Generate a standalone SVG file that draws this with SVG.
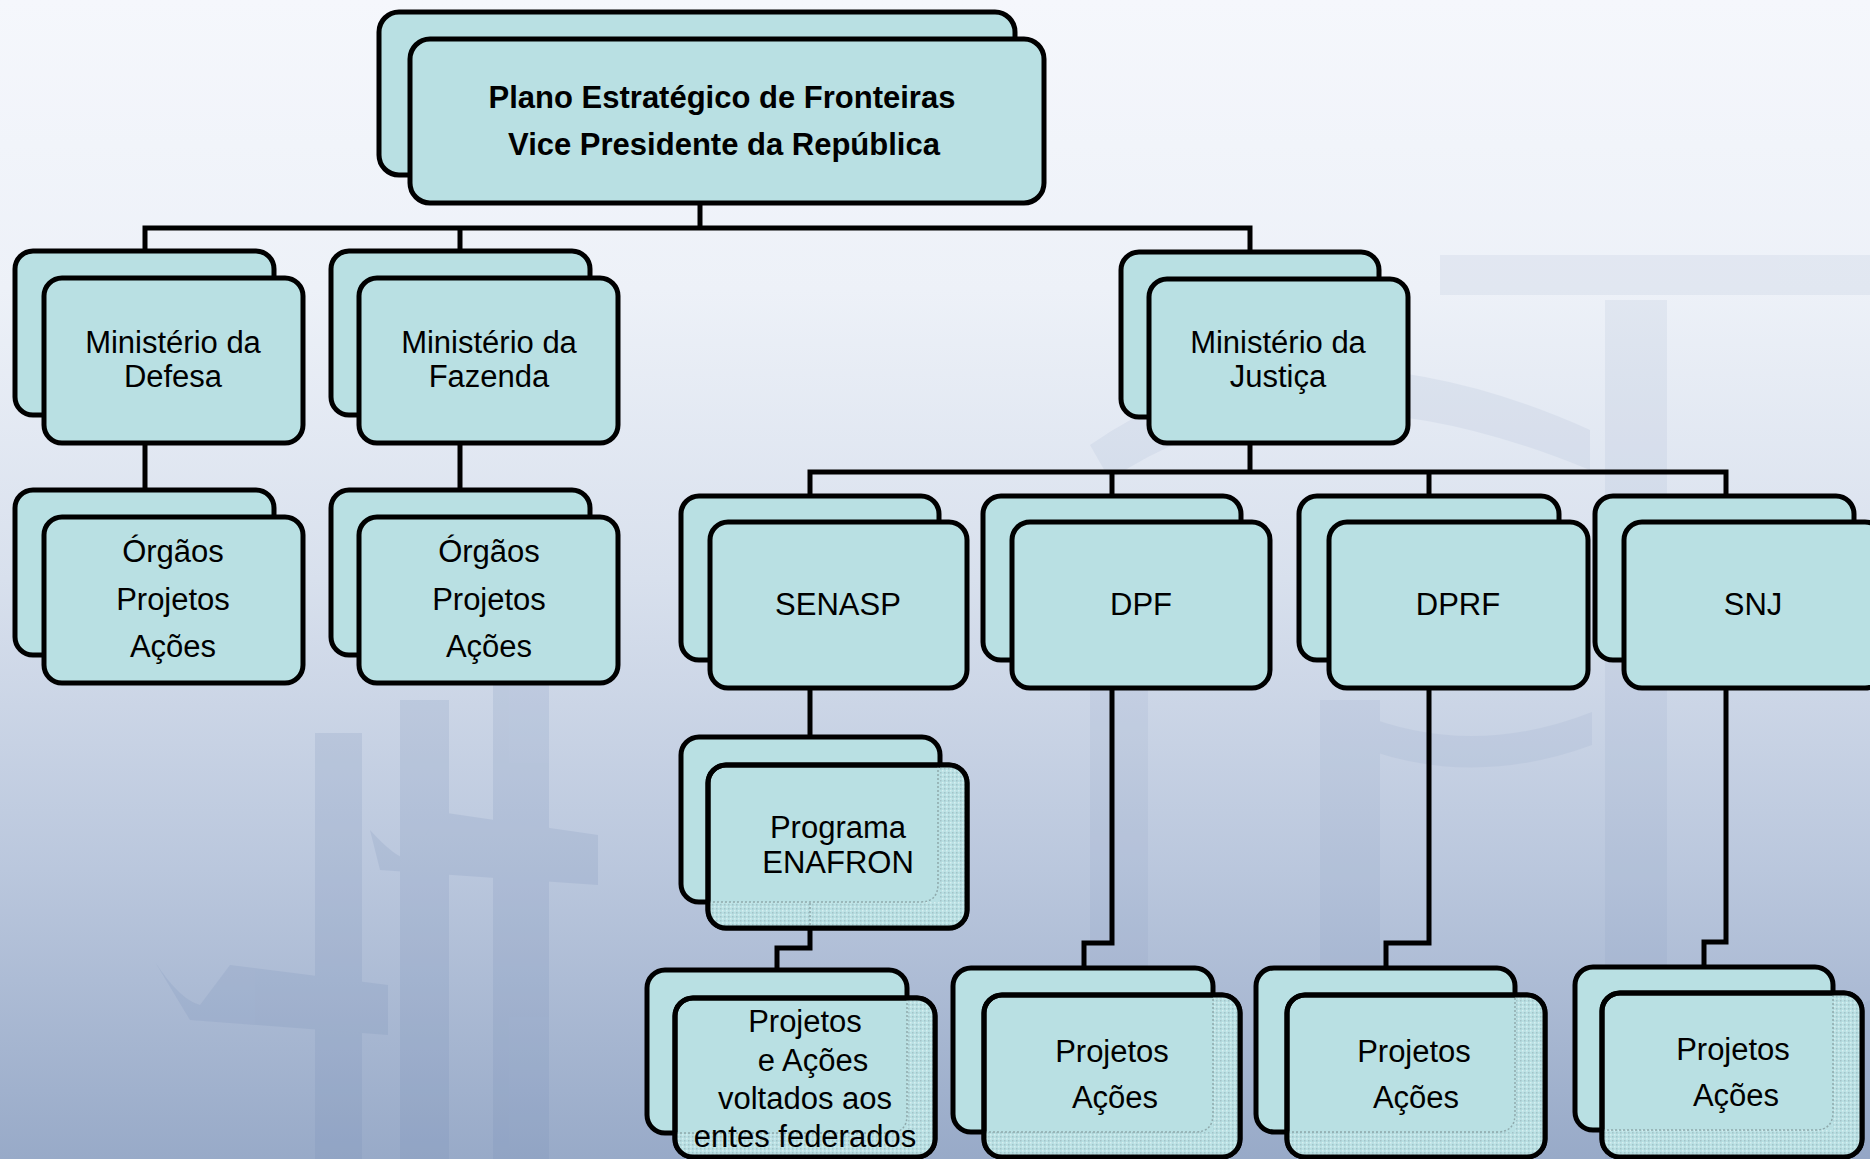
<svg xmlns="http://www.w3.org/2000/svg" width="1870" height="1159" viewBox="0 0 1870 1159">
<style>
  .back, .front { fill: #b9e0e3; stroke: #000; stroke-width: 5; }
  .edge { fill: none; stroke: #000; stroke-width: 5; }
  .lbl { font-family: "Liberation Sans", Arial, sans-serif; font-size: 31px; fill: #000; text-anchor: middle; }
  .title { font-weight: bold; }
  .conn { fill: none; stroke: #000; stroke-width: 5; stroke-linejoin: miter; }
  .stip { fill: url(#dots); }
  .dotline { fill: none; stroke: #8fa9ac; stroke-width: 1.5; stroke-dasharray: 2 2; }
  .bgshape { fill: #6f87b2; }
</style>
<defs>
  <linearGradient id="bg" x1="0" y1="0" x2="0" y2="1">
    <stop offset="0" stop-color="#f5f7fc"/>
    <stop offset="0.25" stop-color="#edf1f8"/>
    <stop offset="0.5" stop-color="#d8e0ed"/>
    <stop offset="0.75" stop-color="#bac7dd"/>
    <stop offset="1" stop-color="#98aac8"/>
  </linearGradient>
  <pattern id="dots" width="4" height="4" patternUnits="userSpaceOnUse">
    <rect width="4" height="4" fill="#b9e0e3"/>
    <rect x="0" y="0" width="1.5" height="1.5" fill="#a3c3c8"/>
    <rect x="2" y="2" width="1.5" height="1.5" fill="#d6eef0"/>
  </pattern>
  <clipPath id="cEnaf"><rect x="708" y="765" width="259" height="163" rx="18"/></clipPath>
  <clipPath id="cEntes"><rect x="675" y="998" width="260" height="159" rx="18"/></clipPath>
  <clipPath id="cPA1"><rect x="984" y="995" width="256" height="162" rx="18"/></clipPath>
  <clipPath id="cPA2"><rect x="1287" y="995" width="258" height="162" rx="18"/></clipPath>
  <clipPath id="cPA3"><rect x="1602" y="993" width="260" height="164" rx="18"/></clipPath>
</defs>

<g id="background">
  <rect x="0" y="0" width="1870" height="1159" fill="url(#bg)"/>
  <g class="bgshape" opacity="0.16">
    <rect x="315" y="733" width="47" height="430"/>
    <rect x="400" y="700" width="49" height="460"/>
    <rect x="493" y="683" width="56" height="480"/>
    <path d="M155,962 Q180,1000 200,1005 L230,965 L388,985 L388,1035 L190,1020 Z"/>
    <path d="M370,830 Q395,858 410,860 L440,812 L598,835 L598,885 L380,870 Z"/>
  </g>
  <g class="bgshape" opacity="0.09">
    <rect x="1090" y="690" width="58" height="470"/>
    <rect x="1320" y="700" width="60" height="460"/>
    <rect x="1605" y="300" width="62" height="860"/>
    <rect x="1440" y="255" width="430" height="40"/>
    <path d="M1090,445 Q1300,300 1590,430 L1590,470 Q1300,350 1110,480 Z"/>
    <path d="M1355,712 Q1470,760 1592,712 L1592,745 Q1470,790 1355,745 Z"/>
    <path d="M1700,1159 L1760,1050 L1870,1000 L1870,1159 Z"/>
  </g>
</g>

<g id="connectors">
  <path class="conn" d="M700,203 V228"/>
  <path class="conn" d="M145,251 V228 H1250 V252"/>
  <path class="conn" d="M460,228 V251"/>
  <path class="conn" d="M145,443 V490"/>
  <path class="conn" d="M460,443 V490"/>
  <path class="conn" d="M1250,443 V472"/>
  <path class="conn" d="M810,496 V472 H1726 V496"/>
  <path class="conn" d="M1112,472 V496"/>
  <path class="conn" d="M1429,472 V496"/>
  <path class="conn" d="M810,688 V737"/>
  <path class="conn" d="M810,928 V948 H777 V970"/>
  <path class="conn" d="M1112,688 V943 H1084 V968"/>
  <path class="conn" d="M1429,688 V943 H1386 V968"/>
  <path class="conn" d="M1726,688 V942 H1704 V967"/>
</g>

<g id="node-plano">
  <rect class="back" x="379" y="12" width="636" height="163" rx="20"/>
  <rect class="front" x="410" y="39" width="634" height="164" rx="20"/>
  <text class="lbl title" x="722" y="108">Plano Estratégico de Fronteiras</text>
  <text class="lbl title" x="724" y="155">Vice Presidente da República</text>
</g>

<g id="node-defesa">
  <rect class="back" x="15" y="251" width="259" height="164" rx="18"/>
  <rect class="front" x="44" y="278" width="259" height="165" rx="18"/>
  <text class="lbl" x="173" y="353">Ministério da</text>
  <text class="lbl" x="173" y="387">Defesa</text>
</g>

<g id="node-fazenda">
  <rect class="back" x="331" y="251" width="259" height="164" rx="18"/>
  <rect class="front" x="359" y="278" width="259" height="165" rx="18"/>
  <text class="lbl" x="489" y="353">Ministério da</text>
  <text class="lbl" x="489" y="387">Fazenda</text>
</g>

<g id="node-orgaos-defesa">
  <rect class="back" x="15" y="490" width="259" height="165" rx="18"/>
  <rect class="front" x="44" y="517" width="259" height="166" rx="18"/>
  <text class="lbl" x="173" y="562">Órgãos</text>
  <text class="lbl" x="173" y="610">Projetos</text>
  <text class="lbl" x="173" y="657">Ações</text>
</g>

<g id="node-orgaos-fazenda">
  <rect class="back" x="331" y="490" width="259" height="165" rx="18"/>
  <rect class="front" x="359" y="517" width="259" height="166" rx="18"/>
  <text class="lbl" x="489" y="562">Órgãos</text>
  <text class="lbl" x="489" y="610">Projetos</text>
  <text class="lbl" x="489" y="657">Ações</text>
</g>

<g id="node-justica">
  <rect class="back" x="1121" y="252" width="258" height="165" rx="18"/>
  <rect class="front" x="1149" y="279" width="259" height="164" rx="18"/>
  <text class="lbl" x="1278" y="353">Ministério da</text>
  <text class="lbl" x="1278" y="387">Justiça</text>
</g>

<g id="node-senasp">
  <rect class="back" x="681" y="496" width="258" height="164" rx="18"/>
  <rect class="front" x="710" y="522" width="257" height="166" rx="18"/>
  <text class="lbl" x="838" y="615">SENASP</text>
</g>

<g id="node-dpf">
  <rect class="back" x="983" y="496" width="258" height="164" rx="18"/>
  <rect class="front" x="1012" y="522" width="258" height="166" rx="18"/>
  <text class="lbl" x="1141" y="615">DPF</text>
</g>

<g id="node-dprf">
  <rect class="back" x="1299" y="496" width="260" height="164" rx="18"/>
  <rect class="front" x="1329" y="522" width="259" height="166" rx="18"/>
  <text class="lbl" x="1458" y="615">DPRF</text>
</g>

<g id="node-snj">
  <rect class="back" x="1595" y="496" width="259" height="164" rx="18"/>
  <rect class="front" x="1624" y="522" width="259" height="166" rx="18"/>
  <text class="lbl" x="1753" y="615">SNJ</text>
</g>

<g id="node-enafron">
  <rect class="back" x="681" y="737" width="259" height="165" rx="18"/>
  <rect class="front" x="708" y="765" width="259" height="163" rx="18"/>
  <g clip-path="url(#cEnaf)">
    <rect class="stip" x="940" y="765" width="30" height="170"/>
    <rect class="stip" x="700" y="902" width="270" height="30"/>
  </g>
  <path class="dotline" d="M709,902 H920 Q938,902 938,884 V767"/>
  <path class="dotline" d="M810,903 V928"/>
  <rect class="edge" x="708" y="765" width="259" height="163" rx="18"/>
  <text class="lbl" x="838" y="838">Programa</text>
  <text class="lbl" x="838" y="873">ENAFRON</text>
</g>

<g id="node-entes">
  <rect class="back" x="647" y="970" width="260" height="163" rx="18"/>
  <rect class="front" x="675" y="998" width="260" height="159" rx="18"/>
  <g clip-path="url(#cEntes)">
    <rect class="stip" x="907" y="998" width="30" height="165"/>
    <rect class="stip" x="670" y="1133" width="270" height="30"/>
  </g>
  <path class="dotline" d="M676,1133 H889 Q907,1133 907,1115 V1000"/>
  <rect class="edge" x="675" y="998" width="260" height="159" rx="18"/>
  <text class="lbl" x="805" y="1032">Projetos</text>
  <text class="lbl" x="813" y="1071">e Ações</text>
  <text class="lbl" x="805" y="1109">voltados aos</text>
  <text class="lbl" x="805" y="1147">entes federados</text>
</g>

<g id="node-dpf-projetos">
  <rect class="back" x="953" y="968" width="260" height="164" rx="18"/>
  <rect class="front" x="984" y="995" width="256" height="162" rx="18"/>
  <g clip-path="url(#cPA1)">
    <rect class="stip" x="1213" y="995" width="30" height="165"/>
    <rect class="stip" x="980" y="1132" width="265" height="30"/>
  </g>
  <path class="dotline" d="M985,1132 H1195 Q1213,1132 1213,1114 V997"/>
  <rect class="edge" x="984" y="995" width="256" height="162" rx="18"/>
  <text class="lbl" x="1112" y="1062">Projetos</text>
  <text class="lbl" x="1115" y="1108">Ações</text>
</g>

<g id="node-dprf-projetos">
  <rect class="back" x="1256" y="968" width="259" height="164" rx="18"/>
  <rect class="front" x="1287" y="995" width="258" height="162" rx="18"/>
  <g clip-path="url(#cPA2)">
    <rect class="stip" x="1515" y="995" width="32" height="165"/>
    <rect class="stip" x="1280" y="1132" width="270" height="30"/>
  </g>
  <path class="dotline" d="M1288,1132 H1497 Q1515,1132 1515,1114 V997"/>
  <rect class="edge" x="1287" y="995" width="258" height="162" rx="18"/>
  <text class="lbl" x="1414" y="1062">Projetos</text>
  <text class="lbl" x="1416" y="1108">Ações</text>
</g>

<g id="node-snj-projetos">
  <rect class="back" x="1575" y="967" width="258" height="163" rx="18"/>
  <rect class="front" x="1602" y="993" width="260" height="164" rx="18"/>
  <g clip-path="url(#cPA3)">
    <rect class="stip" x="1833" y="993" width="32" height="167"/>
    <rect class="stip" x="1598" y="1130" width="270" height="30"/>
  </g>
  <path class="dotline" d="M1603,1130 H1815 Q1833,1130 1833,1112 V995"/>
  <rect class="edge" x="1602" y="993" width="260" height="164" rx="18"/>
  <text class="lbl" x="1733" y="1060">Projetos</text>
  <text class="lbl" x="1736" y="1106">Ações</text>
</g>
</svg>
